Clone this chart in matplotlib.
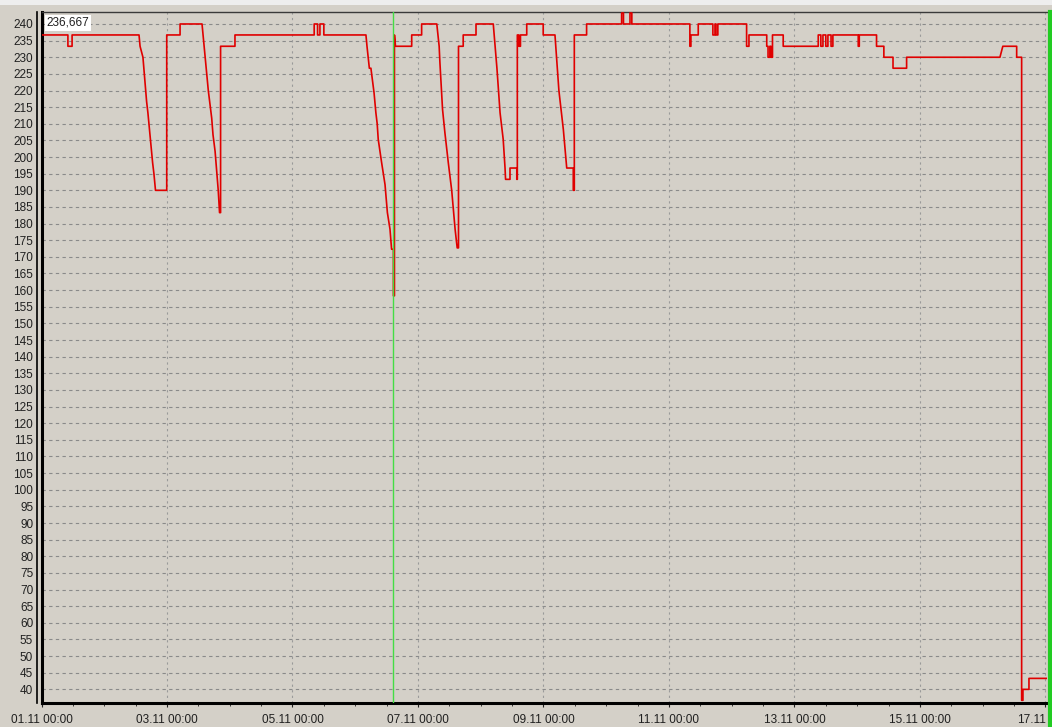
import matplotlib
matplotlib.use("Agg")
import matplotlib.pyplot as plt
from matplotlib.lines import Line2D
from matplotlib.patches import Rectangle
import numpy as np

# ---- data: hours since 01.11 00:00 and voltage values (polyline vertices) ----
hours = [
    0.0, 10.1, 10.1, 11.7, 11.7, 37.3, 37.7, 38.8, 40.2, 40.7, 41.1, 41.5, 41.9, 42.5, 43.0, 43.4, 43.6,
    47.9, 47.9, 53.0, 53.0, 61.4, 63.8, 65.1, 65.6, 66.4, 67.6, 68.1, 68.5, 68.5, 74.0, 74.0,
    104.3, 104.3, 105.6, 105.6, 106.5, 106.5, 108.0, 108.0,
    124.1, 124.5, 125.4, 126.0, 127.2, 127.9, 128.4, 128.8, 130.1, 131.4, 132.3, 133.3, 133.9,
    134.6, 134.6, 135.0, 135.0, 135.4, 141.6, 141.6, 145.4, 145.4, 151.2,
    152.1, 152.4, 153.4, 154.3, 155.6, 156.9, 158.2, 159.0, 159.5, 159.5, 161.3, 161.3, 166.2, 166.2,
    172.8, 173.5, 174.2, 175.4, 176.6, 177.3, 177.5, 179.2, 179.2, 181.8, 181.8, 182.0, 182.0,
    182.6, 182.6, 183.2, 183.2, 185.6, 185.6, 191.9, 191.9, 196.4,
    197.0, 197.9, 199.6, 200.9, 203.4, 203.4, 203.8, 203.8, 208.5, 208.5,
    221.9, 221.9, 222.6, 222.6, 225.1, 225.1, 225.8, 225.8,
    248.0, 248.0, 248.4, 248.4, 251.2, 251.2,
    256.8, 256.8, 257.6, 257.6, 258.0, 258.0, 258.7, 258.7,
    269.7, 269.7, 270.6, 270.6, 277.4, 277.4, 277.9, 277.9, 278.6, 278.6, 279.0, 279.0, 279.6, 279.6,
    283.7, 283.7,
    297.1, 297.1, 298.1, 298.1, 298.9, 298.9, 300.0, 300.0, 300.8, 300.8, 302.0, 302.0, 302.7, 302.7,
    312.4, 312.4, 312.8, 312.8,
    319.4, 319.4, 322.2, 322.2, 325.7, 325.7, 330.9, 330.9,
    366.6, 367.7, 373.0, 373.0, 374.9, 374.9, 375.4, 375.4, 377.7, 377.7, 385.0,
]
volts = [
    236.7, 236.7, 233.3, 233.3, 236.7, 236.7, 233.3, 230.0, 216.7, 213.3, 210.0, 206.7, 203.3, 198.3, 195.0, 191.7, 190.0,
    190.0, 236.7, 236.7, 240.0, 240.0, 220.0, 211.7, 206.7, 201.7, 190.0, 183.3, 183.3, 233.3, 233.3, 236.7,
    236.7, 240.0, 240.0, 236.7, 236.7, 240.0, 240.0, 236.7,
    236.7, 233.3, 226.7, 226.7, 219.3, 213.3, 210.0, 205.3, 198.3, 191.7, 183.3, 178.3, 172.3,
    172.3, 158.3, 158.3, 236.7, 233.3, 233.3, 236.7, 236.7, 240.0, 240.0,
    233.3, 228.3, 214.3, 207.3, 198.3, 190.0, 178.3, 172.7, 172.7, 233.3, 233.3, 236.7, 236.7, 240.0,
    240.0, 233.3, 226.7, 213.3, 205.3, 196.7, 193.3, 193.3, 196.7, 196.7, 193.3, 193.3, 236.7,
    236.7, 233.3, 233.3, 236.7, 236.7, 240.0, 240.0, 236.7, 236.7,
    230.0, 220.0, 208.3, 196.7, 196.7, 190.0, 190.0, 236.7, 236.7, 240.0,
    240.0, 243.3, 243.3, 240.0, 240.0, 243.3, 243.3, 240.0,
    240.0, 233.3, 233.3, 236.7, 236.7, 240.0,
    240.0, 236.7, 236.7, 240.0, 240.0, 236.7, 236.7, 240.0,
    240.0, 233.3, 233.3, 236.7, 236.7, 233.3, 233.3, 230.0, 230.0, 233.3, 233.3, 230.0, 230.0, 236.7,
    236.7, 233.3,
    233.3, 236.7, 236.7, 233.3, 233.3, 236.7, 236.7, 233.3, 233.3, 236.7, 236.7, 233.3, 233.3, 236.7,
    236.7, 233.3, 233.3, 236.7,
    236.7, 233.3, 233.3, 230.0, 230.0, 226.7, 226.7, 230.0,
    230.0, 233.3, 233.3, 230.0, 230.0, 36.7, 36.7, 40.0, 40.0, 43.3, 43.3,
]

cursor_hour = 134.4
current_label = "236,667"

tick_hours = [0, 48, 96, 144, 192, 240, 288, 336, 384]
tick_labels = ["01.11 00:00", "03.11 00:00", "05.11 00:00", "07.11 00:00", "09.11 00:00",
               "11.11 00:00", "13.11 00:00", "15.11 00:00", "17.11"]
y_ticks = list(range(40, 245, 5))

W, H = 1052, 727
BG = "#d4d0c8"
plt.rcParams['font.family'] = ['Liberation Sans', 'DejaVu Sans']

fig = plt.figure(figsize=(W / 100, H / 100), dpi=100, facecolor=BG)
L, R, T, B = 41.5, 1047.0, 12.0, 703.0
ax = fig.add_axes([L / W, 1 - B / H, (R - L) / W, (B - T) / H])
ax.set_facecolor(BG)

ax.set_xlim(0, 384.6)
ax.set_ylim(35.9, 243.6)

# grid
for yv in y_ticks:
    ax.axhline(yv, color="#8a8a8a", lw=0.8, ls=(0, (3, 3)), zorder=1)
for xv in tick_hours:
    ax.axvline(xv, color="#9a9a9a", lw=0.8, ls=(0, (2, 3)), zorder=1)

ax.plot(hours, volts, color="#e00000", lw=1.2, zorder=3)
ax.axvline(cursor_hour, color="#44dd44", lw=1.0, zorder=4)

ax.set_yticks(y_ticks)
ax.set_yticklabels([str(v) for v in y_ticks])
ax.set_xticks(tick_hours)
ax.set_xticklabels(tick_labels)
ax.set_xticks(np.arange(0, 385, 12), minor=True)
for lbl in ax.get_xticklabels():
    lbl.set_ha("center")
ax.get_xticklabels()[-1].set_ha("right")

ax.tick_params(axis="y", length=0, pad=6, labelsize=8.5, colors="#202020")
ax.tick_params(axis="x", which="major", length=3, pad=5, labelsize=8.5, colors="#202020")
ax.tick_params(axis="x", which="minor", length=2, color="#202020")

for s in ["left", "bottom"]:
    ax.spines[s].set_linewidth(2.2)
    ax.spines[s].set_color("black")
ax.spines["top"].set_linewidth(1.0)
ax.spines["top"].set_color("#3a3a3a")
ax.spines["right"].set_visible(False)

ax.text(0.005, 0.993, current_label, transform=ax.transAxes, ha="left", va="top",
        fontsize=8.5, color="#202020",
        bbox=dict(boxstyle="square,pad=0.15", facecolor="white", edgecolor="none"))

# decorations: extra left frame line, right green edge, light top strip
fig.add_artist(Line2D([37 / W, 37 / W], [1 - 703 / H, 1 - 12 / H], transform=fig.transFigure,
                      color="black", lw=1.2))
fig.add_artist(Line2D([1049.5 / W, 1049.5 / W], [0, 1 - 12 / H], transform=fig.transFigure,
                      color="#22cc22", lw=3))
fig.add_artist(Rectangle((0, 1 - 5 / H), 1, 5 / H, transform=fig.transFigure,
                         facecolor="#eeeeee", edgecolor="none"))

fig.savefig("out.png", dpi=100, facecolor=BG)
